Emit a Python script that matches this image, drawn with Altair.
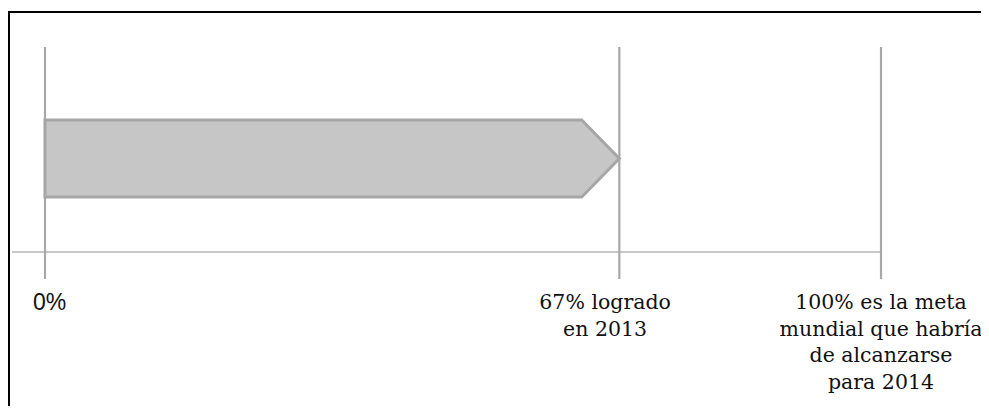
import altair as alt
import pandas as pd

# ---- data ----
label_pos = [0, 67, 100]
label_text = [
    "0%",
    "67% logrado\nen 2013",
    "100% es la meta\nmundial que habría\nde alcanzarse\npara 2014",
]
# positions of the vertical markers as drawn in the reference (0-100 scale)
marker_pos = [0, 68.7, 100]

# arrow (progress) shape: start, shoulder, tip (0-100 scale)
arrow_x = [0, 64.2, 68.7]
arrow_top = [1, 1, 0.5]
arrow_bottom = [0, 0, 0.5]

W, H = 973, 398

xscale = alt.Scale(domain=[0, 100], range=[37, 873], nice=False, zero=False)
yscale = alt.Scale(domain=[0, 1], range=[189, 112], nice=False, zero=False)

arrow_df = pd.DataFrame({"x": arrow_x, "top": arrow_top, "bottom": arrow_bottom})
marker_df = pd.DataFrame({"x": marker_pos})
sans_df = pd.DataFrame({"x": label_pos[:1], "t": label_text[:1]})
serif_df = pd.DataFrame({"x": label_pos[1:], "t": label_text[1:]})

frame = alt.Chart(pd.DataFrame({"a": [0]})).mark_rect(
    fill=None, stroke="black", strokeWidth=2
).encode(
    x=alt.value(1), x2=alt.value(1100), y=alt.value(4), y2=alt.value(500)
)

hline = alt.Chart(pd.DataFrame({"a": [0]})).mark_rule(
    color="#b4b4b4", strokeWidth=1.6
).encode(
    x=alt.value(4), x2=alt.value(873), y=alt.value(244)
)

vlines = alt.Chart(marker_df).mark_rule(color="#a8a8a8", strokeWidth=2.2).encode(
    x=alt.X("x:Q", scale=xscale, axis=None),
    y=alt.value(39),
    y2=alt.value(271),
)

arrow = alt.Chart(arrow_df).mark_area(
    color="#c6c6c6", stroke="#a6a6a6", strokeWidth=3, strokeJoin="miter",
    opacity=1
).encode(
    x=alt.X("x:Q", scale=xscale, axis=None),
    y=alt.Y("top:Q", scale=yscale, axis=None),
    y2="bottom:Q",
)

sans_text = alt.Chart(sans_df).mark_text(
    font="Liberation Sans", fontSize=23,
    align="left", baseline="alphabetic", dx=-12, color="#111111"
).encode(
    x=alt.X("x:Q", scale=xscale, axis=None),
    y=alt.value(302),
    text="t:N",
)

serif_text = alt.Chart(serif_df).mark_text(
    font="DejaVu Serif", fontSize=20.5,
    align="center", baseline="alphabetic",
    lineBreak="\n", lineHeight=26.7, color="#111111"
).encode(
    x=alt.X("x:Q", scale=xscale, axis=None),
    y=alt.value(301),
    text="t:N",
)

chart = alt.layer(frame, hline, vlines, arrow, sans_text, serif_text).properties(
    width=W, height=H, padding=0, background="white",
    autosize=alt.AutoSizeParams(type="none"),
).configure_view(stroke=None)

chart.save("out.html", embed_options={"renderer": "svg", "actions": False})
